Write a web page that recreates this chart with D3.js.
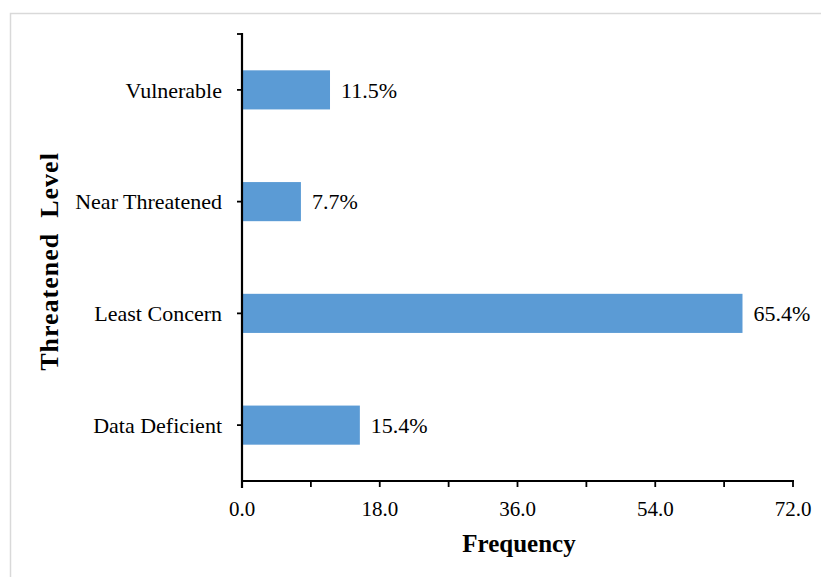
<!DOCTYPE html>
<html><head><meta charset="utf-8">
<script src="https://cdn.jsdelivr.net/npm/d3@7"></script>
<style>body{margin:0;background:#fff}svg{display:block}text{font-family:"Liberation Serif","Times New Roman",serif}</style>
</head><body><svg id="c" width="821" height="577"></svg>
<script>
const categories = ["Vulnerable", "Near Threatened", "Least Concern", "Data Deficient"];
const values = [11.5, 7.7, 65.4, 15.4];
const valueLabels = ["11.5%", "7.7%", "65.4%", "15.4%"];
const majorTicks = [0, 18, 36, 54, 72];
const minorTicks = [9, 27, 45, 63];
const xTitle = "Frequency";
const yTitle = "Threatened  Level";

const svg = d3.select("#c");
svg.append("rect").attr("x",10.5).attr("y",13.5).attr("width",840).attr("height",620)
  .attr("fill","#fff").attr("stroke","#d9d9d9").attr("stroke-width",1.5);

const x = d3.scaleLinear().domain([0,72]).range([242,793]);
const y = d3.scaleBand().domain(categories).range([34,481]).paddingInner(0.65).paddingOuter(0.325);

// bars
svg.selectAll(".bar").data(categories).enter().append("rect")
  .attr("x", x(0)).attr("y", d=>y(d)).attr("height", y.bandwidth())
  .attr("width", (d,i)=>x(values[i])-x(0)).attr("fill","#5B9BD5");

// value labels
svg.selectAll(".vl").data(categories).enter().append("text")
  .attr("x",(d,i)=>x(values[i])+11).attr("y",d=>y(d)+y.bandwidth()/2)
  .attr("dy","0.35em").attr("font-size",22).attr("fill","#000")
  .text((d,i)=>valueLabels[i]);

// x axis
const xAxis = svg.append("g").attr("transform","translate(0,481)");
xAxis.append("line").attr("x1",x(0)-1).attr("x2",x(72)+1).attr("stroke","#000").attr("stroke-width",2.2);
xAxis.selectAll(".mt").data(majorTicks.concat(minorTicks)).enter().append("line")
  .attr("x1",d=>x(d)).attr("x2",d=>x(d)).attr("y1",0).attr("y2",6)
  .attr("stroke","#000").attr("stroke-width",1.8);
xAxis.selectAll(".tl").data(majorTicks).enter().append("text")
  .attr("x",d=>x(d)).attr("y",35).attr("text-anchor","middle").attr("font-size",21)
  .text(d=>d3.format(".1f")(d));

// y axis
const yAxis = svg.append("g");
yAxis.append("line").attr("x1",x(0)).attr("x2",x(0)).attr("y1",33).attr("y2",488)
  .attr("stroke","#000").attr("stroke-width",2.2);
yAxis.append("line").attr("x1",x(0)-5).attr("x2",x(0)).attr("y1",34).attr("y2",34)
  .attr("stroke","#000").attr("stroke-width",1.8);
yAxis.selectAll(".yt").data(categories).enter().append("line")
  .attr("x1",x(0)-5).attr("x2",x(0)).attr("y1",d=>y(d)+y.bandwidth()/2).attr("y2",d=>y(d)+y.bandwidth()/2)
  .attr("stroke","#000").attr("stroke-width",1.8);
yAxis.selectAll(".yl").data(categories).enter().append("text")
  .attr("x",x(0)-20).attr("y",d=>y(d)+y.bandwidth()/2).attr("dy","0.35em")
  .attr("text-anchor","end").attr("font-size",22).text(d=>d);

// titles
svg.append("text").attr("x",519).attr("y",552).attr("text-anchor","middle")
  .attr("font-size",25).attr("font-weight","bold").text(xTitle);
svg.append("text").attr("transform","translate(58,261.5) rotate(-90)").attr("text-anchor","middle")
  .attr("font-size",26).attr("font-weight","bold").attr("letter-spacing",1)
  .style("white-space","pre").text(yTitle);
</script></body></html>
